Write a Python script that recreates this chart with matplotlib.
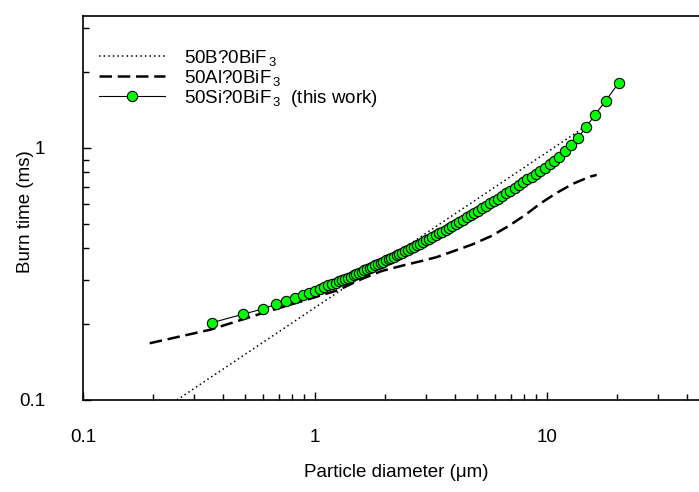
import numpy as np
import matplotlib
matplotlib.use("Agg")
import matplotlib.pyplot as plt
from matplotlib.ticker import LogLocator, NullFormatter, FixedLocator, FixedFormatter

plt.rcParams['font.family'] = ['Liberation Sans', 'DejaVu Sans']
plt.rcParams['mathtext.fontset'] = 'custom'
plt.rcParams['mathtext.rm'] = 'Liberation Sans'
plt.rcParams['mathtext.it'] = 'Liberation Sans:italic'
plt.rcParams['mathtext.bf'] = 'Liberation Sans:bold'

# 50B-BiF3 (dotted, straight in log-log)
b_d = [0.254, 15.0]
b_t = [0.100, 1.234]

# 50Al-BiF3 (dashed)
al_d = [0.194, 0.353, 0.621, 0.936, 1.26, 1.59, 1.94, 2.40, 2.88, 3.35,
        3.88, 4.73, 5.72, 6.81, 8.04, 9.39, 11.0, 13.0, 15.3, 16.4]
al_t = [0.168, 0.190, 0.224, 0.251, 0.273, 0.302, 0.325, 0.342, 0.356, 0.369,
        0.387, 0.413, 0.446, 0.489, 0.541, 0.603, 0.663, 0.722, 0.769, 0.782]

# 50Si-BiF3 (this work)
si_d = [0.359, 0.488, 0.595, 0.679, 0.750, 0.820, 0.885, 0.945, 1.003, 1.051,
        1.096, 1.140, 1.184, 1.227, 1.269, 1.310, 1.349, 1.389, 1.428, 1.467,
        1.507, 1.548, 1.590, 1.633, 1.677, 1.722, 1.769, 1.818, 1.867, 1.918,
        1.970, 2.023, 2.078, 2.135, 2.193, 2.253, 2.313, 2.378, 2.446, 2.514,
        2.588, 2.664, 2.744, 2.827, 2.915, 3.006, 3.103, 3.203, 3.310, 3.420,
        3.534, 3.656, 3.781, 3.914, 4.053, 4.200, 4.353, 4.516, 4.685, 4.865,
        5.052, 5.252, 5.459, 5.680, 5.910, 6.150, 6.405, 6.671, 6.955, 7.251,
        7.567, 7.897, 8.241, 8.600, 8.975, 9.384, 9.822, 10.28, 10.77, 11.31,
        11.93, 12.68, 13.62, 14.73, 16.10, 17.91, 20.43]
si_t = [0.2026, 0.2188, 0.2297, 0.2398, 0.2471, 0.2533, 0.2603, 0.2651, 0.2708, 0.2765,
        0.2807, 0.2847, 0.2886, 0.2923, 0.2959, 0.2992, 0.3025, 0.3056, 0.3088, 0.3124,
        0.3159, 0.3196, 0.3231, 0.3269, 0.3306, 0.3344, 0.3381, 0.3420, 0.3459, 0.3499,
        0.3538, 0.3579, 0.3620, 0.3661, 0.3704, 0.3745, 0.3789, 0.3839, 0.3890, 0.3945,
        0.4001, 0.4057, 0.4117, 0.4177, 0.4240, 0.4305, 0.4371, 0.4440, 0.4512, 0.4584,
        0.4659, 0.4736, 0.4815, 0.4904, 0.4999, 0.5098, 0.5199, 0.5306, 0.5415, 0.5528,
        0.5646, 0.5768, 0.5893, 0.6022, 0.6156, 0.6292, 0.6443, 0.6603, 0.6773, 0.6946,
        0.7129, 0.7317, 0.7508, 0.7706, 0.7908, 0.8125, 0.8351, 0.8607, 0.8897, 0.9245,
        0.9712, 1.027, 1.100, 1.208, 1.352, 1.537, 1.816]

labels = [r'50B?0BiF$_{\,3}$', r'50Al?0BiF$_{\,3}$', r'50Si?0BiF$_{\,3}$  (this work)']

W, H = 699, 492
FS = 13.5
fig = plt.figure(figsize=(W / 100, H / 100), dpi=100)
# axes box in pixels: left 83, bottom 400, top 16, right runs past the edge
ax = fig.add_axes([83 / W, (H - 400) / H, (709 - 83) / W, (400 - 16) / H])

ax.plot(b_d, b_t, color='black', lw=1.1, linestyle=(0, (1, 2.0)), label=labels[0])
ax.plot(al_d, al_t, color='black', lw=1.8, linestyle=(0, (5, 2.3)), label=labels[1])
ax.plot(si_d, si_t, color='black', lw=0.8, marker='o', markersize=7.4,
        markerfacecolor='#00ff00', markeredgecolor='black', markeredgewidth=0.8,
        label=labels[2])

ax.set_xscale('log')
ax.set_yscale('log')
ax.set_xlim(0.1, 50)
ax.set_ylim(0.1, 3.34)

ax.xaxis.set_major_locator(FixedLocator([0.1, 1, 10]))
ax.xaxis.set_major_formatter(FixedFormatter(['0.1', '1', '10']))
ax.xaxis.set_minor_locator(LogLocator(base=10, subs=np.arange(2, 10)))
ax.xaxis.set_minor_formatter(NullFormatter())
ax.yaxis.set_major_locator(FixedLocator([0.1, 1]))
ax.yaxis.set_major_formatter(FixedFormatter(['0.1', '1']))
ax.yaxis.set_minor_locator(LogLocator(base=10, subs=np.arange(2, 10)))
ax.yaxis.set_minor_formatter(NullFormatter())

ax.tick_params(which='both', direction='in', top=False, right=False, labelsize=FS, width=1)
ax.tick_params(axis='x', which='major', length=6, pad=21)
ax.tick_params(axis='x', which='minor', length=4)
ax.tick_params(axis='y', which='major', length=6, pad=27)
ax.tick_params(axis='y', which='minor', length=4)
for sp in ax.spines.values():
    sp.set_linewidth(1.2)

ax.set_xlabel('Particle diameter (\u03bcm)', fontsize=FS, labelpad=13)
ax.set_ylabel('Burn time (ms)', fontsize=FS)
ax.yaxis.set_label_coords(-0.079, 0.49)

ax.legend(loc='upper left', bbox_to_anchor=(99 / W, (H - 48) / H),
          bbox_transform=fig.transFigure, frameon=False, fontsize=FS,
          handlelength=3.5, handletextpad=1.05, labelspacing=0.0,
          borderpad=0, borderaxespad=0, numpoints=1)

fig.savefig('out.png', dpi=100)
